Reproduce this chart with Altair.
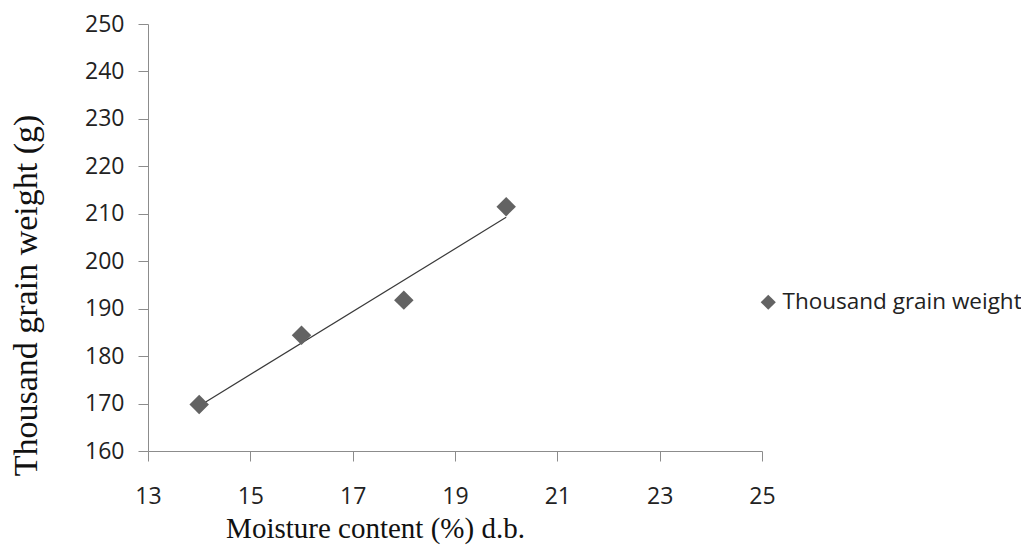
import altair as alt
import pandas as pd

moisture = [14, 16, 18, 20]
weight = [169.8, 184.4, 191.8, 211.5]
series = ["Thousand grain weight"] * 4

df = pd.DataFrame({"x": moisture, "y": weight, "s": series})

xs = alt.Scale(domain=[13, 25], nice=False, zero=False)
ys = alt.Scale(domain=[160, 250], nice=False, zero=False)

x_axis = alt.Axis(
    values=[13, 15, 17, 19, 21, 23, 25], grid=False,
    title="Moisture content (%) d.b.", titleFont="Liberation Serif", titleFontSize=29,
    titleFontWeight="normal", titleColor="#111", titleX=227, titleY=86,
    titleBaseline="alphabetic", titleAnchor="start", titleAlign="center",
    labelFont="Open Sans", labelFontSize=23, labelColor="#222", labelPadding=24,
    labelFlush=False,
    domainColor="#8c8c8c", tickColor="#8c8c8c", tickSize=10,
)
y_axis = alt.Axis(
    values=list(range(160, 251, 10)), grid=False,
    title="Thousand grain weight  (g)", titleFont="Liberation Serif", titleFontSize=34,
    titleFontWeight="normal", titleColor="#111", titleX=-112, titleY=271,
    titleBaseline="alphabetic", titleAnchor="start", titleAlign="center", titleAngle=270,
    labelFont="Open Sans", labelFontSize=23, labelColor="#222", labelPadding=14,
    labelFlush=False,
    domainColor="#8c8c8c", tickColor="#8c8c8c", tickSize=10,
)

base = alt.Chart(df)

points = base.mark_point(shape="diamond", filled=True, size=380, opacity=1).encode(
    x=alt.X("x:Q", scale=xs, axis=x_axis),
    y=alt.Y("y:Q", scale=ys, axis=y_axis),
    color=alt.Color(
        "s:N",
        scale=alt.Scale(range=["#636363"]),
        legend=alt.Legend(
            orient="none", legendX=609, legendY=267, title=None,
            symbolType="diamond", symbolSize=230, symbolOpacity=1,
            labelFont="Open Sans", labelFontSize=22.5, labelColor="#222",
            labelOffset=3, padding=0, labelLimit=0,
        ),
    ),
)

trend = base.transform_regression("x", "y").mark_line(color="#3a3a3a", strokeWidth=1.2).encode(
    x=alt.X("x:Q", scale=xs),
    y=alt.Y("y:Q", scale=ys),
)

chart = (trend + points).properties(
    width=614, height=427,
    autosize=alt.AutoSizeParams(type="none"),
    padding={"left": 140, "top": 16, "right": 259, "bottom": 95},
    background="white",
).configure_view(strokeWidth=0)

chart.save("out.html", embed_options={"renderer": "svg", "actions": False})
